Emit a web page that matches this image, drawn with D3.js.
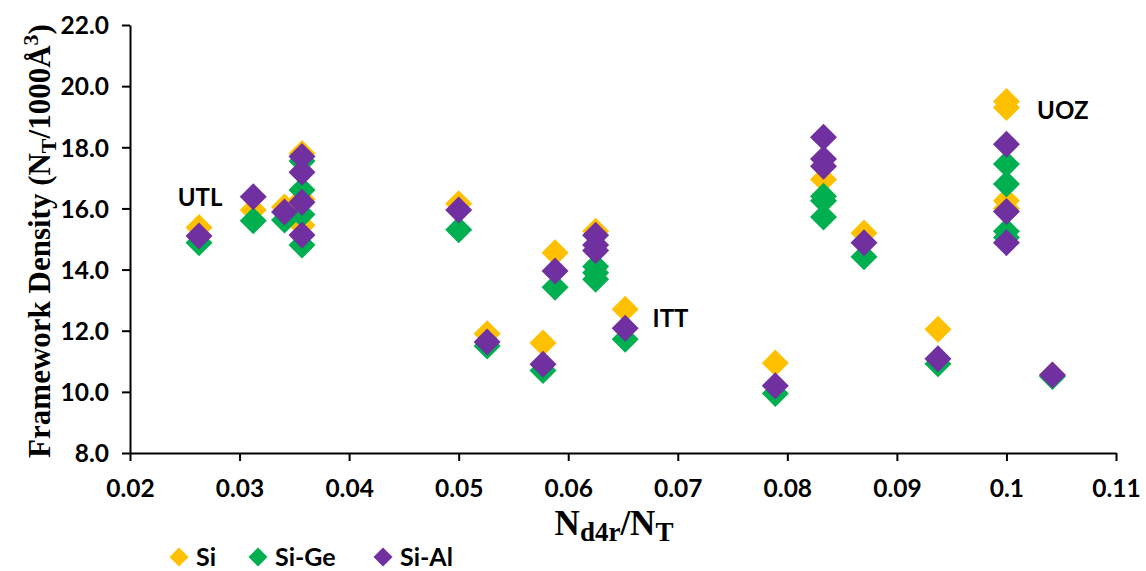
<!DOCTYPE html>
<html>
<head>
<meta charset="utf-8">
<script src="https://cdn.jsdelivr.net/npm/d3@7"></script>
<style>
  html, body { margin: 0; padding: 0; background: #fff; }
  svg { display: block; }
</style>
</head>
<body>
<svg id="chart" width="1146" height="571"></svg>
<script>
// ---- data ----
const seriesNames = ["Si", "Si-Ge", "Si-Al"];
const seriesColors = ["#FFC000", "#00B050", "#7030A0"];

const siX = [0.0263, 0.03125, 0.0341, 0.0357, 0.0357, 0.0357, 0.05, 0.0526, 0.0577, 0.0588, 0.0625, 0.0652, 0.0789, 0.0833, 0.087, 0.09375, 0.1, 0.1, 0.1, 0.1, 0.1042];
const siY = [15.38, 15.95, 16.05, 17.8, 16.3, 15.45, 16.15, 11.9, 11.6, 14.55, 15.25, 12.7, 10.94, 16.95, 15.2, 12.05, 19.5, 19.3, 16.25, 16.0, 10.55];

const geX = [0.0263, 0.03125, 0.0341, 0.0357, 0.0357, 0.0357, 0.0357, 0.05, 0.0526, 0.0577, 0.0588, 0.0625, 0.0625, 0.0625, 0.0652, 0.0789, 0.0833, 0.0833, 0.0833, 0.087, 0.09375, 0.1, 0.1, 0.1, 0.1, 0.1042];
const geY = [14.88, 15.6, 15.62, 17.55, 16.6, 15.8, 14.8, 15.3, 11.5, 10.7, 13.42, 14.1, 13.9, 13.68, 11.72, 9.95, 16.4, 16.25, 15.72, 14.42, 10.92, 17.45, 16.8, 15.25, 15.05, 10.5];

const alX = [0.0263, 0.03125, 0.0341, 0.0357, 0.0357, 0.0357, 0.0357, 0.05, 0.0526, 0.0577, 0.0588, 0.0625, 0.0625, 0.0625, 0.0652, 0.0789, 0.0833, 0.0833, 0.0833, 0.087, 0.09375, 0.1, 0.1, 0.1, 0.1042];
const alY = [15.1, 16.38, 15.88, 17.7, 17.18, 16.2, 15.13, 15.95, 11.63, 10.9, 13.95, 15.12, 14.8, 14.62, 12.08, 10.2, 18.33, 17.62, 17.38, 14.88, 11.08, 18.1, 15.9, 14.88, 10.55];

const xTicks = [0.02, 0.03, 0.04, 0.05, 0.06, 0.07, 0.08, 0.09, 0.1, 0.11];
const xTickLabels = ["0.02", "0.03", "0.04", "0.05", "0.06", "0.07", "0.08", "0.09", "0.1", "0.11"];
const yTicks = [8, 10, 12, 14, 16, 18, 20, 22];
const yTickLabels = ["8.0", "10.0", "12.0", "14.0", "16.0", "18.0", "20.0", "22.0"];

const labelText = ["UTL", "ITT", "UOZ"];
const labelX = [0.02435, 0.0677, 0.1028];
const labelY = [16.35, 12.4, 19.2];

// ---- layout ----
const svg = d3.select("#chart");
const mLeft = 130, mRight = 1116, mTop = 25, mBottom = 453;
const x = d3.scaleLinear().domain([0.02, 0.11]).range([mLeft, mRight]);
const y = d3.scaleLinear().domain([8, 22]).range([mBottom, mTop]);

const sansFont = "Lato, 'Open Sans', sans-serif";
const serifFont = "'Liberation Serif', 'DejaVu Serif', serif";

// axes
const xAxis = d3.axisBottom(x).tickValues(xTicks).tickSize(8).tickSizeOuter(0)
  .tickFormat((d, i) => xTickLabels[i]);
const yAxis = d3.axisLeft(y).tickValues(yTicks).tickSize(8).tickSizeOuter(0)
  .tickFormat((d, i) => yTickLabels[i]);

const gx = svg.append("g").attr("transform", `translate(0,${mBottom})`).call(xAxis);
const gy = svg.append("g").attr("transform", `translate(${mLeft},0)`).call(yAxis);

[gx, gy].forEach(g => {
  g.select(".domain").attr("stroke", "#000").attr("stroke-width", 2);
  g.selectAll(".tick line").attr("stroke", "#000").attr("stroke-width", 2);
  g.selectAll(".tick text").attr("fill", "#000")
    .style("font-family", sansFont).style("font-weight", "bold").style("font-size", "24.5px");
});
gx.selectAll(".tick text").attr("dy", null).attr("y", 44);
gy.selectAll(".tick text").attr("x", -21).attr("dy", "0.36em");

// diamonds
function diamond(r) {
  const p = d3.path();
  p.moveTo(0, -r); p.lineTo(r, 0); p.lineTo(0, r); p.lineTo(-r, 0); p.closePath();
  return p.toString();
}
const seriesData = [
  siX.map((v, i) => [v, siY[i]]),
  geX.map((v, i) => [v, geY[i]]),
  alX.map((v, i) => [v, alY[i]])
];
seriesData.forEach((pts, s) => {
  svg.append("g").selectAll("path").data(pts).join("path")
    .attr("d", diamond(13.5))
    .attr("transform", d => `translate(${x(d[0])},${y(d[1])})`)
    .attr("fill", seriesColors[s]);
});

// labels
labelText.forEach((t, i) => {
  svg.append("text")
    .attr("x", x(labelX[i])).attr("y", y(labelY[i]))
    .attr("dy", "0.36em")
    .style("font-family", sansFont).style("font-weight", "bold").style("font-size", "24px")
    .attr("fill", "#000")
    .text(t);
});

// y title
const yt = svg.append("text")
  .attr("transform", `translate(50,241) rotate(-90)`)
  .attr("text-anchor", "middle")
  .style("font-family", serifFont).style("font-weight", "bold").style("font-size", "31px")
  .attr("fill", "#000");
yt.append("tspan").text("Framework Density (N");
yt.append("tspan").attr("baseline-shift", "-25%").style("font-size", "22px").text("T");
yt.append("tspan").text("/1000Å");
yt.append("tspan").attr("baseline-shift", "super").style("font-size", "22px").text("3");
yt.append("tspan").text(")");

// x title
const xt = svg.append("text")
  .attr("x", 614).attr("y", 535)
  .attr("text-anchor", "middle")
  .style("font-family", serifFont).style("font-weight", "bold").style("font-size", "35px")
  .attr("fill", "#000");
xt.append("tspan").text("N");
xt.append("tspan").attr("baseline-shift", "-22%").style("font-size", "27px").text("d4r");
xt.append("tspan").text("/N");
xt.append("tspan").attr("baseline-shift", "-22%").style("font-size", "27px").text("T");

// legend
const legendX = [179, 258, 383];
const legendY = 557;
seriesNames.forEach((n, i) => {
  svg.append("path").attr("d", diamond(9.5))
    .attr("transform", `translate(${legendX[i]},${legendY})`)
    .attr("fill", seriesColors[i]);
  svg.append("text")
    .attr("x", legendX[i] + 17).attr("y", legendY).attr("dy", "0.36em")
    .style("font-family", sansFont).style("font-weight", "bold").style("font-size", "25px")
    .attr("fill", "#000").text(n);
});
</script>
</body>
</html>
